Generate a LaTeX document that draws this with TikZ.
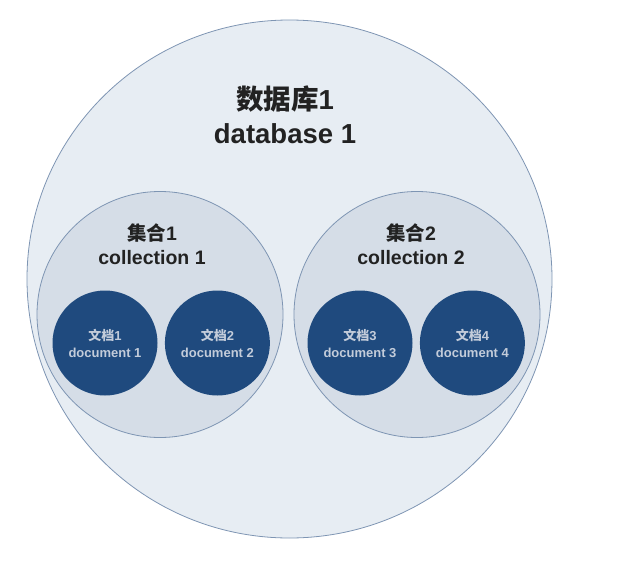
\documentclass[tikz,border=0pt]{standalone}
\usepackage{fontspec}
\setmainfont{Liberation Sans}
\newfontfamily\cjk{Noto Sans CJK SC}
\usetikzlibrary{positioning,shapes.geometric}

\definecolor{edgeblue}{HTML}{7E95B3}
\definecolor{dbfill}{HTML}{E7EDF3}
\definecolor{collfill}{HTML}{D5DDE7}
\definecolor{docblue}{HTML}{1F4A7E}
\definecolor{doctext}{HTML}{C3CCDA}
\definecolor{textdark}{HTML}{222222}

\begin{document}
\begin{tikzpicture}[
  x=1pt,y=-1pt,
  db/.style={ellipse,draw=edgeblue,line width=0.8pt,fill=dbfill,minimum width=525pt,minimum height=518pt,inner sep=0pt},
  coll/.style={circle,draw=edgeblue,line width=0.8pt,fill=collfill,minimum size=246pt,inner sep=0pt},
  doc/.style={circle,fill=docblue,minimum size=105pt,inner sep=0pt,align=center,text=doctext,
    font=\fontsize{13}{17}\selectfont\bfseries},
  dblbl/.style={align=center,text=textdark,font=\fontsize{27.5}{34}\selectfont\bfseries},
  colllbl/.style={align=center,text=textdark,font=\fontsize{19.5}{24}\selectfont\bfseries},
]
\useasboundingbox (0,0) rectangle (633,563);

% --- database ---
\node[db] (db) at (289.5,279) {};
\node[dblbl] (dblabel) at (285,115) {{\cjk 数据库}1\\database 1};

% --- collections ---
\node[coll] (c1) at (160,314.5) {};
\node[coll] (c2) at (417,314.5) {};
\node[colllbl] (c1label) at (152,244) {{\cjk 集合}1\\collection 1};
\node[colllbl] (c2label) at (411,244) {{\cjk 集合}2\\collection 2};

% --- documents ---
\node[doc] (d1) at (105,343) {{\cjk 文档}1\\document 1};
\node[doc,right=7pt of d1] (d2) {{\cjk 文档}2\\document 2};
\node[doc] (d3) at (360,343) {{\cjk 文档}3\\document 3};
\node[doc,right=7pt of d3] (d4) {{\cjk 文档}4\\document 4};

\end{tikzpicture}
\end{document}
